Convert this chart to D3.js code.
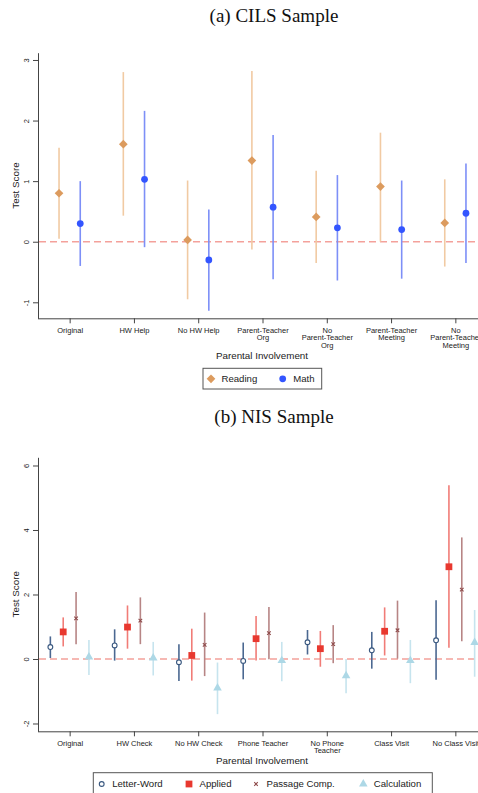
<!DOCTYPE html>
<html>
<head>
<meta charset="utf-8">
<script src="https://cdn.jsdelivr.net/npm/d3@7"></script>
<style>
  body { margin: 0; background: #fff; }
  text { font-family: "Liberation Sans", Arial, sans-serif; fill: #222; }
  .title { font-family: "Liberation Serif", serif; font-size: 19px; fill: #111; }
  .axis path, .axis line { stroke: #444; }
</style>
</head>
<body>
<div class="chart"></div>
<script>
// DATA ------------------------------

// panel (a) CILS
let catsA = [["Original"], ["HW Help"], ["No HW Help"], ["Parent-Teacher", "Org"],
  ["No", "Parent-Teacher", "Org"], ["Parent-Teacher", "Meeting"], ["No", "Parent-Teacher", "Meeting"]];
let readingEst = [0.80, 1.61, 0.03, 1.34, 0.41, 0.91, 0.31];
let readingLo = [0.05, 0.43, -0.95, -0.13, -0.35, 0.00, -0.41];
let readingHi = [1.55, 2.80, 1.01, 2.82, 1.17, 1.80, 1.03];
let mathEst = [0.30, 1.03, -0.30, 0.57, 0.23, 0.20, 0.47];
let mathLo = [-0.40, -0.09, -1.14, -0.62, -0.64, -0.61, -0.35];
let mathHi = [1.00, 2.16, 0.53, 1.76, 1.10, 1.01, 1.29];
let ticksA = [-1, 0, 1, 2, 3];

// panel (b) NIS
let catsB = [["Original"], ["HW Check"], ["No HW Check"], ["Phone Teacher"],
  ["No Phone", "Teacher"], ["Class Visit"], ["No Class Visit"]];
let lwEst = [0.37, 0.42, -0.10, -0.06, 0.52, 0.27, 0.58];
let lwLo = [0.03, -0.05, -0.68, -0.63, 0.14, -0.30, -0.64];
let lwHi = [0.70, 0.92, 0.46, 0.51, 0.90, 0.84, 1.82];
let apEst = [0.84, 0.99, 0.11, 0.63, 0.32, 0.86, 2.86];
let apLo = [0.39, 0.32, -0.67, -0.05, -0.24, 0.11, 0.35];
let apHi = [1.29, 1.66, 0.94, 1.33, 0.87, 1.60, 5.39];
let pcEst = [1.26, 1.19, 0.44, 0.80, 0.46, 0.89, 2.15];
let pcLo = [0.46, 0.46, -0.53, -0.01, -0.13, 0.01, 0.55];
let pcHi = [2.08, 1.91, 1.44, 1.61, 1.05, 1.81, 3.77];
let caEst = [0.06, 0.03, -0.90, -0.05, -0.52, -0.05, 0.51];
let caLo = [-0.50, -0.51, -1.71, -0.69, -1.06, -0.75, -0.55];
let caHi = [0.59, 0.53, -0.11, 0.53, 0.00, 0.59, 1.52];
let ticksB = [-2, 0, 2, 4, 6];

// CHART ------------------------------

let W = 478, H = 793;
let svg = d3.select(".chart").append("svg")
  .attr("width", W).attr("height", H);

let x = d3.scaleLinear().domain([0.5, 7.5]).range([37.5, 487.5]);

function panel(p) {
  let g = svg.append("g");
  let y = d3.scaleLinear().domain(p.ydom).range([p.bottom, p.top]);

  g.append("text").attr("class", "title")
    .attr("x", 274).attr("y", p.titleY)
    .attr("text-anchor", "middle").text(p.title);

  // y axis
  let yAxis = d3.axisLeft(y).tickValues(p.ticks).tickSize(5).tickSizeOuter(0).tickFormat(d3.format("d"));
  let ya = g.append("g").attr("class", "axis")
    .attr("transform", "translate(38,0)").call(yAxis);
  ya.selectAll(".tick text").remove();
  ya.selectAll(".tick").append("text")
    .attr("transform", "translate(-9.5,0) rotate(-90)")
    .attr("text-anchor", "middle")
    .style("font-size", "7.5px")
    .text(d => d);

  // x axis
  let xAxis = d3.axisBottom(x).tickValues(d3.range(1, 8)).tickSize(5).tickSizeOuter(0).tickFormat("");
  let xa = g.append("g").attr("class", "axis")
    .attr("transform", "translate(0," + p.bottom + ")").call(xAxis);
  xa.selectAll(".tick").append("text")
    .attr("text-anchor", "middle")
    .style("font-size", "7.5px")
    .each(function(d) {
      let t = d3.select(this);
      p.cats[d - 1].forEach((s, k) => {
        t.append("tspan").attr("x", 0).attr("y", 14.5 + k * 7.7).text(s);
      });
    });

  g.append("text")
    .attr("transform", "translate(19," + ((p.top + p.bottom) / 2) + ") rotate(-90)")
    .attr("text-anchor", "middle").style("font-size", "9.8px").text("Test Score");

  g.append("text")
    .attr("x", 262).attr("y", p.bottom + p.xtitleOff)
    .attr("text-anchor", "middle").style("font-size", "9.8px").text("Parental Involvement");

  // zero line
  g.append("line")
    .attr("x1", 39).attr("x2", W)
    .attr("y1", y(0)).attr("y2", y(0))
    .attr("stroke", "#f4a19b").attr("stroke-width", 1.5)
    .attr("stroke-dasharray", "7,4");

  // series
  p.series.forEach(s => {
    let rows = s.est.map((v, i) => ({ c: i + 1, est: v, lo: s.lo[i], hi: s.hi[i] }));
    let sg = g.append("g");
    sg.selectAll("line.ci").data(rows).enter().append("line")
      .attr("class", "ci")
      .attr("x1", d => x(d.c + s.off)).attr("x2", d => x(d.c + s.off))
      .attr("y1", d => y(d.lo)).attr("y2", d => y(d.hi))
      .attr("stroke", s.line).attr("stroke-width", 1.6);
    sg.selectAll("path.pt").data(rows).enter().append("path")
      .attr("class", "pt")
      .attr("d", d3.symbol().type(s.sym).size(s.size))
      .attr("transform", d => "translate(" + x(d.c + s.off) + "," + y(d.est) + ") rotate(" + (s.rot || 0) + ")")
      .attr("fill", s.fill).attr("stroke", s.stroke || "none").attr("stroke-width", s.sw || 0);
  });

  // legend
  let lg = g.append("g");
  lg.append("rect")
    .attr("x", p.legend.x).attr("y", p.legend.y)
    .attr("width", p.legend.w).attr("height", p.legend.h)
    .attr("fill", "#fff").attr("stroke", "#555").attr("stroke-width", 1);
  p.series.forEach((s, k) => {
    let lx = p.legend.items[k];
    lg.append("path")
      .attr("d", d3.symbol().type(s.sym).size(s.size))
      .attr("transform", "translate(" + lx + "," + p.legend.cy + ") rotate(" + (s.rot || 0) + ")")
      .attr("fill", s.fill).attr("stroke", s.stroke || "none").attr("stroke-width", s.sw || 0);
    lg.append("text")
      .attr("x", lx + 10.5).attr("y", p.legend.cy + 3.4)
      .style("font-size", "9.6px").text(s.name);
  });
}

panel({
  title: "(a) CILS Sample", titleY: 22, xtitleOff: 41,
  top: 52.7, bottom: 318.3, ydom: [-1.264, 3.12], ticks: ticksA, cats: catsA,
  series: [
    { name: "Reading", est: readingEst, lo: readingLo, hi: readingHi, off: -0.165,
      sym: d3.symbolSquare, size: 38, rot: 45, fill: "#dc9b5e", line: "#f1caa3" },
    { name: "Math", est: mathEst, lo: mathLo, hi: mathHi, off: 0.165,
      sym: d3.symbolCircle, size: 36, fill: "#3355ff", line: "#7d8ff7" }
  ],
  legend: { x: 203, y: 368.3, w: 118.7, h: 20.7, cy: 378.8, items: [211, 282.7] }
});

panel({
  title: "(b) NIS Sample", titleY: 423, xtitleOff: 32.5,
  top: 457.3, bottom: 731.3, ydom: [-2.242, 6.254], ticks: ticksB, cats: catsB,
  series: [
    { name: "Letter-Word", est: lwEst, lo: lwLo, hi: lwHi, off: -0.3,
      sym: d3.symbolCircle, size: 18, fill: "#fff", stroke: "#38577f", sw: 1.1, line: "#4b6891" },
    { name: "Applied", est: apEst, lo: apLo, hi: apHi, off: -0.1,
      sym: d3.symbolSquare, size: 46, fill: "#e8382f", line: "#f17c77" },
    { name: "Passage Comp.", est: pcEst, lo: pcLo, hi: pcHi, off: 0.1,
      sym: d3.symbolTimes, size: 10, fill: "none", stroke: "#8e4b4b", sw: 1.1, line: "#b78585" },
    { name: "Calculation", est: caEst, lo: caLo, hi: caHi, off: 0.3,
      sym: d3.symbolTriangle, size: 32, fill: "#add8e6", line: "#c6e4ee" }
  ],
  legend: { x: 93.3, y: 772.7, w: 339, h: 30, cy: 784, items: [101.7, 189, 256, 363.3] }
});
</script>
</body>
</html>
